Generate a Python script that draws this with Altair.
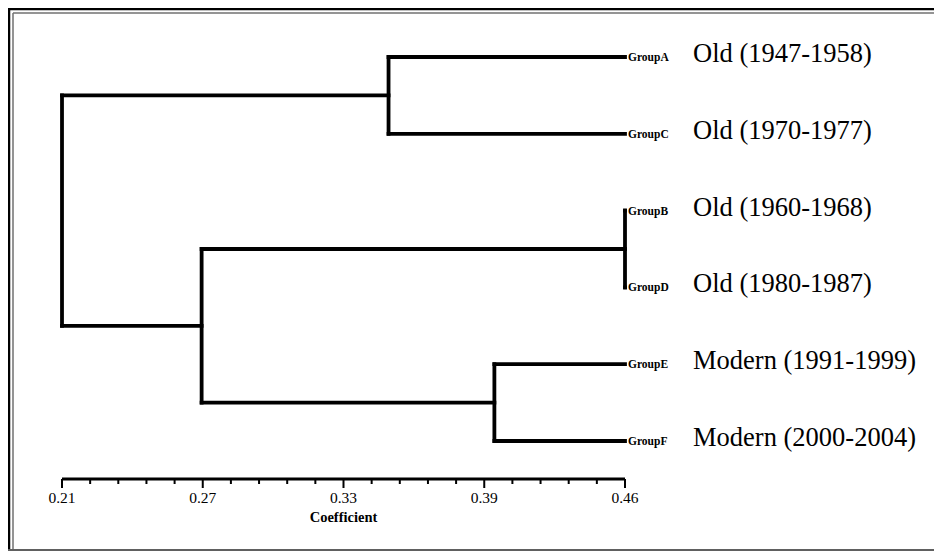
import altair as alt
import pandas as pd

# ---- data ----
leaves = ["GroupA", "GroupC", "GroupB", "GroupD", "GroupE", "GroupF"]
periods = ["Old (1947-1958)", "Old (1970-1977)", "Old (1960-1968)",
           "Old (1980-1987)", "Modern (1991-1999)", "Modern (2000-2004)"]
leaf_height = 0.46
merge_left = ["GroupA", "GroupB", "GroupE", "BD", "AC"]
merge_right = ["GroupC", "GroupD", "GroupF", "EF", "BDEF"]
merge_name = ["AC", "BD", "EF", "BDEF", "ROOT"]
merge_coef = [0.355, 0.46, 0.402, 0.272, 0.21]

major_ticks = [0.21, 0.2725, 0.335, 0.3975, 0.46]
major_labels = ["0.21", "0.27", "0.33", "0.39", "0.46"]
minor_per_interval = 4
axis_title = "Coefficient"

# ---- build dendrogram segments ----
pos = {leaf: (leaf_height, i) for i, leaf in enumerate(leaves)}
segs = []
for l, r, n, c in zip(merge_left, merge_right, merge_name, merge_coef):
    xl, yl = pos[l]
    xr, yr = pos[r]
    segs.append(dict(x0=c, x1=xl, y0=yl, y1=yl))
    segs.append(dict(x0=c, x1=xr, y0=yr, y1=yr))
    segs.append(dict(x0=c, x1=c, y0=yl, y1=yr))
    pos[n] = (c, (yl + yr) / 2)
seg_df = pd.DataFrame(segs)

leaf_df = pd.DataFrame({"leaf": leaves, "period": periods,
                        "x": [leaf_height] * len(leaves),
                        "y": list(range(len(leaves)))})

major_df = pd.DataFrame({"v": major_ticks, "label": major_labels})
minor_vals = []
for a, b in zip(major_ticks[:-1], major_ticks[1:]):
    step = (b - a) / (minor_per_interval + 1)
    for k in range(1, minor_per_interval + 1):
        minor_vals.append(a + k * step)
minor_df = pd.DataFrame({"v": minor_vals})
axis_df = pd.DataFrame({"a": [major_ticks[0]], "b": [major_ticks[-1]],
                        "m": [(major_ticks[0] + major_ticks[-1]) / 2],
                        "t": [axis_title]})

W, H = 926, 543
xs = alt.Scale(domain=[0.21, 0.46], range=[54, 617])
ys = alt.Scale(domain=[0, 5], range=[49, 433])
AXIS_Y = 471
FONT = "Liberation Serif"

tree = alt.Chart(seg_df).mark_rule(color="black", strokeWidth=3.8, strokeCap="square").encode(
    x=alt.X("x0:Q", scale=xs, axis=None), x2="x1:Q",
    y=alt.Y("y0:Q", scale=ys, axis=None), y2="y1:Q")

leaf_text = alt.Chart(leaf_df).mark_text(
    align="left", baseline="middle", dx=3, dy=1, font=FONT, fontWeight="bold",
    fontSize=11.5, color="black").encode(
    x=alt.X("x:Q", scale=xs, axis=None), y=alt.Y("y:Q", scale=ys, axis=None), text="leaf:N")

period_text = alt.Chart(leaf_df).mark_text(
    align="left", baseline="middle", dx=68, dy=-3, font=FONT,
    fontSize=26.5, color="black").encode(
    x=alt.X("x:Q", scale=xs, axis=None), y=alt.Y("y:Q", scale=ys, axis=None), text="period:N")

axis_line = alt.Chart(axis_df).mark_rule(color="black", strokeWidth=3).encode(
    x=alt.X("a:Q", scale=xs, axis=None), x2="b:Q", y=alt.value(AXIS_Y))

major = alt.Chart(major_df).mark_rule(color="black", strokeWidth=2).encode(
    x=alt.X("v:Q", scale=xs, axis=None), y=alt.value(AXIS_Y), y2=alt.value(AXIS_Y + 9))
minor = alt.Chart(minor_df).mark_rule(color="black", strokeWidth=2).encode(
    x=alt.X("v:Q", scale=xs, axis=None), y=alt.value(AXIS_Y), y2=alt.value(AXIS_Y + 5))
major_text = alt.Chart(major_df).mark_text(
    baseline="middle", font=FONT, fontSize=15.5, color="black").encode(
    x=alt.X("v:Q", scale=xs, axis=None), y=alt.value(AXIS_Y + 19), text="label:N")
title_text = alt.Chart(axis_df).mark_text(
    baseline="middle", font=FONT, fontSize=14.5, fontWeight="bold", color="black").encode(
    x=alt.X("m:Q", scale=xs, axis=None), y=alt.value(AXIS_Y + 39), text="t:N")

# decorative frame lines (pixel positions)
def hline(y, x0, color, w):
    return alt.Chart(axis_df).mark_rule(color=color, strokeWidth=w).encode(
        x=alt.value(x0), x2=alt.value(W), y=alt.value(y))

def vline(x, y0, color, w):
    return alt.Chart(axis_df).mark_rule(color=color, strokeWidth=w).encode(
        x=alt.value(x), y=alt.value(y0), y2=alt.value(H))

frame = [hline(1, 0, "#000000", 2.5), hline(5, 5, "#707070", 1.5),
         vline(1, 0, "#000000", 2.5), vline(5, 5, "#707070", 1.5),
         hline(H - 1, 0, "#606060", 2.0)]

chart = alt.layer(*frame, tree, leaf_text, period_text, axis_line, minor, major,
                  major_text, title_text).properties(
    width=W, height=H, padding=0, autosize=alt.AutoSizeParams(type="none")
).configure_view(strokeWidth=0, stroke="transparent")

chart.save("out.html", embed_options={"renderer": "svg", "actions": False})
